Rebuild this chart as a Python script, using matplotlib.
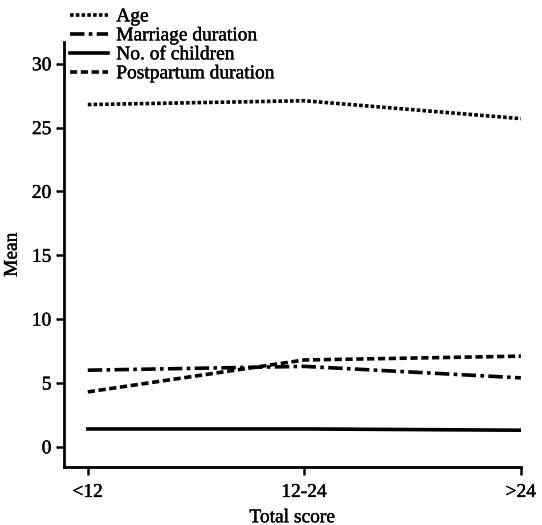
import matplotlib.pyplot as plt
import matplotlib.patheffects as pe

plt.rcParams['font.family'] = 'Liberation Serif'

groups = ['<12', '12-24', '>24']
age = [26.8, 27.1, 25.7]
marriage = [6.0, 6.3, 5.4]
children = [1.4, 1.4, 1.3]
postpartum = [4.3, 6.8, 7.1]

fig = plt.figure(figsize=(5.42, 5.25), dpi=100)
ax = fig.add_axes([0.118, 0.110, 0.843, 0.810])

x = range(len(groups))
ax.plot(x, age, color='black', lw=2.6, linestyle=(0, (1, 0.6)), label='Age')
ax.plot(x, marriage, color='black', lw=2.6, linestyle=(0, (4, 1.2, 1, 1.2)), label='Marriage duration')
ax.plot(x, children, color='black', lw=2.6, linestyle='-', label='No. of children')
ax.plot(x, postpartum, color='black', lw=2.6, linestyle=(0, (2, 1)), label='Postpartum duration')

ax.set_xlim(-0.11, 2.0)
ax.set_ylim(-1.6, 31.7)
ax.set_xticks(list(x))
ax.set_xticklabels(groups)
ax.set_yticks([0, 5, 10, 15, 20, 25, 30])
ax.spines['top'].set_visible(False)
ax.spines['right'].set_visible(False)
ax.spines['left'].set_linewidth(2)
ax.spines['bottom'].set_linewidth(2)
ax.tick_params(axis='both', direction='out', length=6, width=1.8, labelsize=14)
ax.tick_params(axis='x', pad=6)
ax.tick_params(axis='y', pad=3)
ax.set_xlabel('Total score', fontsize=14, labelpad=6)
ax.set_ylabel('Mean', fontsize=14, labelpad=8)

leg = fig.legend(loc='upper left', bbox_to_anchor=(0.114, 1.0), frameon=False,
                 fontsize=14, handlelength=2.0, handletextpad=0.4, labelspacing=0.07,
                 borderaxespad=0)

# slightly heavier text, like the scanned original
thick = [pe.withStroke(linewidth=0.3, foreground='black')]
texts = ax.get_xticklabels() + ax.get_yticklabels() + leg.get_texts()
texts += [ax.xaxis.label, ax.yaxis.label]
for t in texts:
    t.set_path_effects(thick)

fig.savefig('out.png', dpi=100, facecolor='white')
